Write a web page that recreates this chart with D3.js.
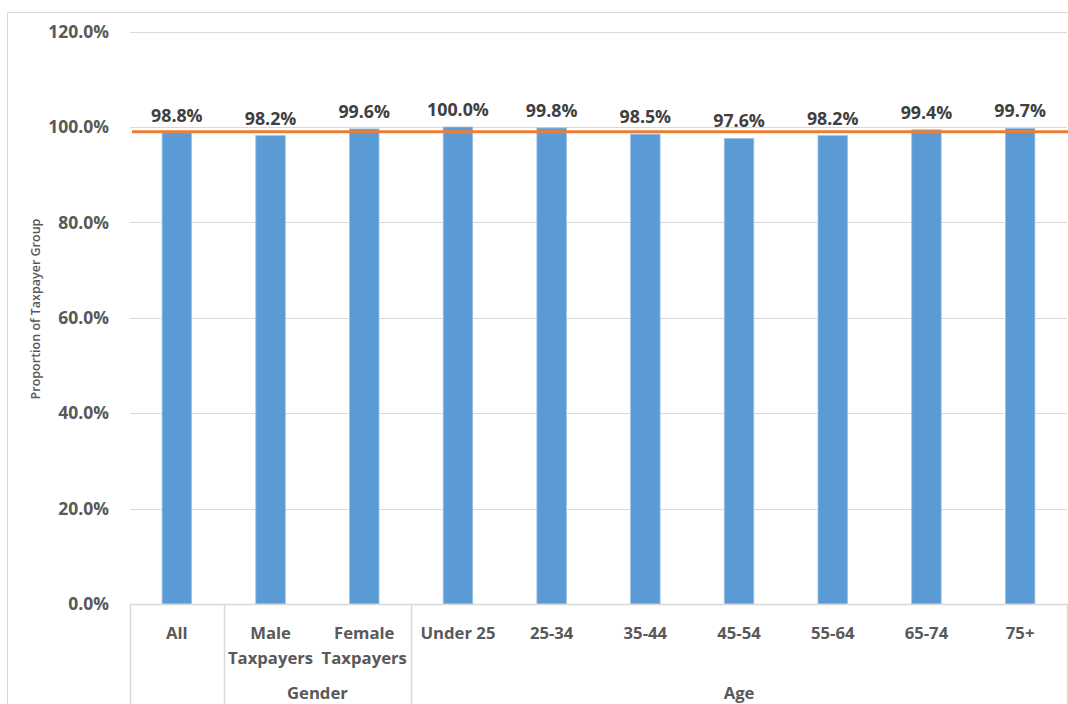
<!DOCTYPE html>
<html>
<head>
<meta charset="utf-8">
<script src="https://cdn.jsdelivr.net/npm/d3@7"></script>
<style>
  html, body { margin: 0; padding: 0; background: #fff; }
  svg { display: block; }
  text { font-family: "Open Sans", sans-serif; }
</style>
</head>
<body>
<svg id="chart" width="1068" height="704"></svg>
<script>
// ---- data ----
const categories = ["All", "Male\nTaxpayers", "Female\nTaxpayers", "Under 25", "25-34", "35-44", "45-54", "55-64", "65-74", "75+"];
const groupOf    = ["", "Gender", "Gender", "Age", "Age", "Age", "Age", "Age", "Age", "Age"];
const values     = [98.8, 98.2, 99.6, 100.0, 99.8, 98.5, 97.6, 98.2, 99.4, 99.7];
const referenceLine = 99.0;
const yTicks = [0, 20, 40, 60, 80, 100, 120];
const yTitle = "Proportion of Taxpayer Group";

// ---- layout ----
const svg = d3.select("#chart");
const W = 1068, H = 704;
const plot = { left: 130, right: 1067, top: 31.6, bottom: 604 };

const x = d3.scaleBand().domain(d3.range(categories.length))
  .range([plot.left, plot.right]).paddingInner(0.685).paddingOuter(0.3425);
const xStep = d3.scaleBand().domain(d3.range(categories.length))
  .range([plot.left, plot.right]).padding(0);
const y = d3.scaleLinear().domain([0, 120]).range([plot.bottom, plot.top]);

// chart border
svg.append("rect").attr("x", 7.5).attr("y", 12.5).attr("width", W + 10).attr("height", H + 10)
  .attr("fill", "none").attr("stroke", "#d9d9d9").attr("stroke-width", 1);

// gridlines
svg.append("g").selectAll("line").data(yTicks.filter(d => d > 0)).join("line")
  .attr("x1", plot.left).attr("x2", plot.right)
  .attr("y1", d => Math.round(y(d)) + 0.5).attr("y2", d => Math.round(y(d)) + 0.5)
  .attr("stroke", "#d9d9d9").attr("stroke-width", 1);

// y tick labels
svg.append("g").selectAll("text").data(yTicks).join("text")
  .attr("x", 109).attr("y", d => y(d)).attr("dy", "0.35em")
  .attr("text-anchor", "end").attr("font-size", 17.5).attr("font-weight", 700)
  .attr("fill", "#595959").text(d => d3.format(".1f")(d) + "%");

// y title
svg.append("text")
  .attr("transform", `translate(40,309) rotate(-90)`)
  .attr("text-anchor", "middle").attr("font-size", 12.5).attr("font-weight", 600)
  .attr("fill", "#595959").text(yTitle);

// bars
svg.append("g").selectAll("rect").data(values).join("rect")
  .attr("x", (d, i) => x(i)).attr("width", x.bandwidth())
  .attr("y", d => y(d)).attr("height", d => y(0) - y(d))
  .attr("fill", "#5b9bd5").attr("stroke", "#9dc3e6").attr("stroke-width", 0.8);

// data labels
svg.append("g").selectAll("text").data(values).join("text")
  .attr("x", (d, i) => x(i) + x.bandwidth() / 2).attr("y", d => y(d) - 11)
  .attr("text-anchor", "middle").attr("font-size", 17.8).attr("font-weight", 700)
  .attr("fill", "#404040").text(d => d3.format(".1f")(d) + "%");

// reference line
svg.append("line")
  .attr("x1", plot.left + 2).attr("x2", W)
  .attr("y1", y(referenceLine)).attr("y2", y(referenceLine))
  .attr("stroke", "#ed7d31").attr("stroke-width", 3);

// x axis line
svg.append("line").attr("x1", plot.left).attr("x2", plot.right)
  .attr("y1", plot.bottom + 0.5).attr("y2", plot.bottom + 0.5)
  .attr("stroke", "#d9d9d9").attr("stroke-width", 1.5);

// category separators (group boundaries)
const boundaries = [0];
for (let i = 1; i < categories.length; i++) if (groupOf[i] !== groupOf[i - 1] || groupOf[i] === "") boundaries.push(i);
boundaries.push(categories.length);
const bx = i => i >= categories.length ? plot.right : xStep(i);
svg.append("g").selectAll("line").data(boundaries).join("line")
  .attr("x1", d => Math.round(bx(d)) + 0.5).attr("x2", d => Math.round(bx(d)) + 0.5)
  .attr("y1", plot.bottom).attr("y2", H)
  .attr("stroke", "#d9d9d9").attr("stroke-width", 1.5);

// category labels
const catG = svg.append("g");
categories.forEach((c, i) => {
  const t = catG.append("text")
    .attr("x", xStep(i) + xStep.bandwidth() / 2).attr("y", 639)
    .attr("text-anchor", "middle").attr("font-size", 16.7).attr("font-weight", 700)
    .attr("fill", "#595959");
  c.split("\n").forEach((line, k) => {
    t.append("tspan").attr("x", xStep(i) + xStep.bandwidth() / 2)
      .attr("dy", k === 0 ? 0 : 25).text(line);
  });
});

// group labels
const groups = [];
categories.forEach((c, i) => {
  const g = groupOf[i];
  if (!g) return;
  const last = groups[groups.length - 1];
  if (last && last.name === g) last.end = i; else groups.push({ name: g, start: i, end: i });
});
svg.append("g").selectAll("text").data(groups).join("text")
  .attr("x", d => (xStep(d.start) + bx(d.end + 1)) / 2).attr("y", 699)
  .attr("text-anchor", "middle").attr("font-size", 16.7).attr("font-weight", 700)
  .attr("fill", "#595959").text(d => d.name);
</script>
</body>
</html>
